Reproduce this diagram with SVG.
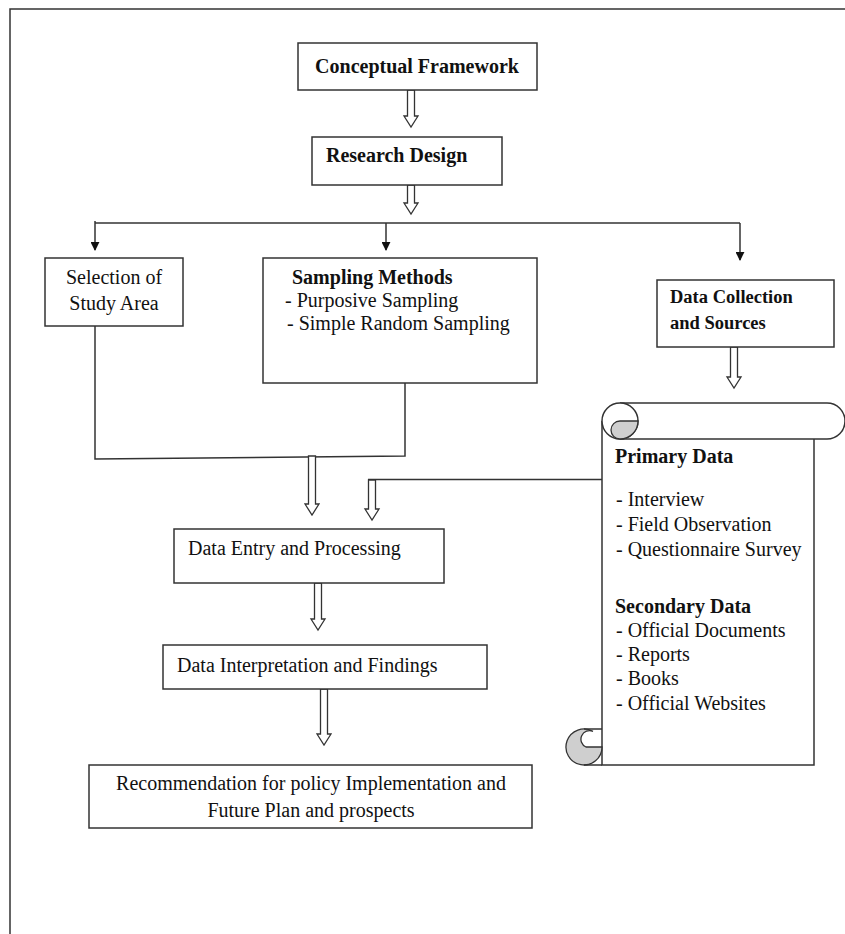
<svg xmlns="http://www.w3.org/2000/svg" width="845" height="934" viewBox="0 0 845 934">
<defs>
<style>
.box{fill:#fff;stroke:#333;stroke-width:1.5}
.ln{fill:none;stroke:#333;stroke-width:1.5}
.ha{fill:#fff;stroke:#333;stroke-width:1.3}
.t{font-family:"Liberation Serif","Times New Roman",serif;font-size:20px;fill:#111}
.b{font-weight:bold}
.gr{fill:#cfcfcf;stroke:#333;stroke-width:1.3}
</style>
<marker id="ah" viewBox="0 0 10 10" refX="9" refY="5" markerWidth="9" markerHeight="9" markerUnits="userSpaceOnUse" orient="auto">
<path d="M0,0 L10,5 L0,10 Z" fill="#111"/>
</marker>
</defs>
<rect width="845" height="934" fill="#fff"/>
<path class="ln" d="M10,934 V9 H845"/>

<g id="connectors">
<polygon class="ha" points="407.5,90 414.5,90 414.5,116 418,116 411,127 404,116 407.5,116"/>
<polygon class="ha" points="407.5,185 414.5,185 414.5,203 418,203 411,214 404,203 407.5,203"/>
<path class="ln" d="M95,223 H740"/>
<path class="ln" d="M95,221 V250" marker-end="url(#ah)"/>
<path class="ln" d="M386,223 V250" marker-end="url(#ah)"/>
<path class="ln" d="M740,223 V260" marker-end="url(#ah)"/>
<polygon class="ha" points="730.5,347 737.5,347 737.5,377 741,377 734,388 727,377 730.5,377"/>
<polyline class="ln" points="95,326 95,459 405,456 405,383"/>
<polygon class="ha" points="308.5,456 315.5,456 315.5,504 319,504 312,515 305,504 308.5,504"/>
<path class="ln" d="M368,479.5 H602"/>
<polygon class="ha" points="368.5,480 375.5,480 375.5,509 379,509 372,520 365,509 368.5,509"/>
<polygon class="ha" points="314.5,583 321.5,583 321.5,619 325,619 318,630 311,619 314.5,619"/>
<polygon class="ha" points="320.5,689 327.5,689 327.5,734 331,734 324,745 317,734 320.5,734"/>
</g>

<g id="conceptual">
<rect class="box" x="298" y="43" width="239" height="47"/>
<text class="t b" x="417" y="73" text-anchor="middle">Conceptual Framework</text>
</g>
<g id="research">
<rect class="box" x="312" y="137" width="190" height="48"/>
<text class="t b" x="326" y="162">Research Design</text>
</g>
<g id="selection">
<rect class="box" x="45" y="258" width="138" height="68"/>
<text class="t" x="114" y="284" text-anchor="middle">Selection of</text>
<text class="t" x="114" y="310" text-anchor="middle">Study Area</text>
</g>
<g id="sampling">
<rect class="box" x="263" y="258" width="274" height="125"/>
<text class="t b" x="292" y="284">Sampling Methods</text>
<text class="t" x="285" y="307">- Purposive Sampling</text>
<text class="t" x="287" y="330">- Simple Random Sampling</text>
</g>
<g id="datacollection">
<rect class="box" x="657" y="280" width="177" height="67"/>
<text class="t b" x="670" y="303" style="font-size:18.5px">Data Collection</text>
<text class="t b" x="670" y="329" style="font-size:18.5px">and Sources</text>
</g>
<g id="scroll">
<path class="box" d="M602,421 V765 H814 V439"/>
<path class="box" d="M620,403 H827 A18,18 0 0 1 827,439 H620"/>
<circle class="box" cx="620" cy="421" r="18"/>
<path class="gr" d="M620,421 H638 A18,18 0 0 1 620,439 A9,9 0 0 1 620,421 Z"/>
<path class="gr" d="M602,747 A18,18 0 1 1 593,731.4 A8.5,8.5 0 0 0 586,747 Z"/>
<path class="ln" d="M584,729 H602 M584,765 H602"/>
<text class="t b" x="615" y="463">Primary Data</text>
<text class="t" x="616" y="506">- Interview</text>
<text class="t" x="616" y="531">- Field Observation</text>
<text class="t" x="616" y="556">- Questionnaire Survey</text>
<text class="t b" x="615" y="613">Secondary Data</text>
<text class="t" x="616" y="637">- Official Documents</text>
<text class="t" x="616" y="661">- Reports</text>
<text class="t" x="616" y="685">- Books</text>
<text class="t" x="616" y="710">- Official Websites</text>
</g>
<g id="dataentry">
<rect class="box" x="174" y="529" width="270" height="54"/>
<text class="t" x="188" y="555">Data Entry and Processing</text>
</g>
<g id="interpretation">
<rect class="box" x="163" y="645" width="324" height="44"/>
<text class="t" x="177" y="672">Data Interpretation and Findings</text>
</g>
<g id="recommendation">
<rect class="box" x="89" y="765" width="443" height="63"/>
<text class="t" x="311" y="790" text-anchor="middle">Recommendation for policy Implementation and</text>
<text class="t" x="311" y="817" text-anchor="middle">Future Plan and prospects</text>
</g>
</svg>
